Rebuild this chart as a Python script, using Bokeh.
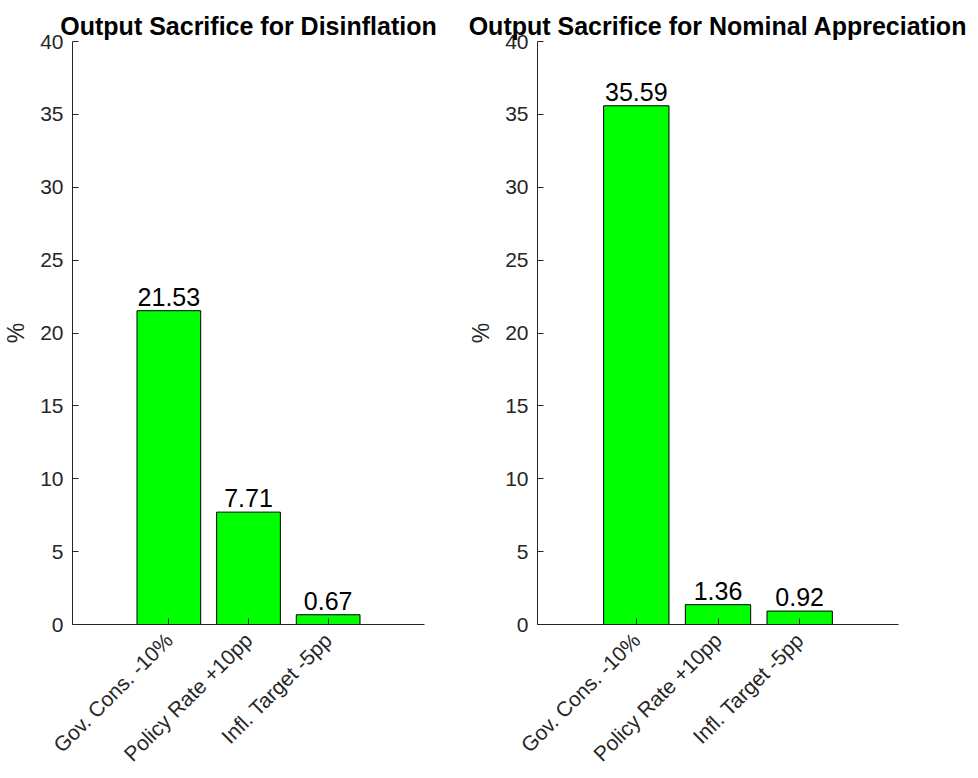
from bokeh.plotting import figure
from bokeh.layouts import row
from bokeh.models import Range1d, FixedTicker, ColumnDataSource
from bokeh.embed import file_html
from bokeh.resources import INLINE
import math

categories = ["Gov. Cons. -10%", "Policy Rate +10pp", "Infl. Target -5pp"]
disinflation = [21.53, 7.71, 0.67]
appreciation = [35.59, 1.36, 0.92]
titles = ["Output Sacrifice for Disinflation", "Output Sacrifice for Nominal Appreciation"]
y_ticks = [0, 5, 10, 15, 20, 25, 30, 35, 40]

FONT = "Liberation Sans"
AX = "#262626"


def make(title, vals, width, mb_left, mb_right):
    xs = list(range(1, len(categories) + 1))
    src = ColumnDataSource(dict(x=xs, top=vals, lab=[f"{v:.2f}" for v in vals]))
    p = figure(width=width, height=776, output_backend="svg", toolbar_location=None,
               x_range=Range1d(1 - 1.21, len(categories) + 1.21), y_range=Range1d(0, 40),
               min_border_left=mb_left, min_border_right=mb_right, min_border_top=41,
               min_border_bottom=0, title=title)
    p.title.text_font = FONT
    p.title.text_font_size = "25px"
    p.title.text_font_style = "bold"
    p.title.text_color = "black"
    p.title.align = "center"
    p.title.standoff = 4
    p.outline_line_color = None
    p.xgrid.visible = False
    p.ygrid.visible = False
    p.background_fill_color = "white"

    p.vbar(x="x", top="top", width=0.8, source=src, fill_color="#00ff00",
           line_color="black", line_width=1)
    p.text(x="x", y="top", text="lab", source=src, text_align="center",
           text_baseline="bottom", text_font_size="25px", text_color="black",
           text_font={"value": FONT}, y_offset=-5)

    xa = p.xaxis[0]
    xa.ticker = FixedTicker(ticks=xs)
    xa.major_label_overrides = {x: c for x, c in zip(xs, categories)}
    xa.major_label_orientation = math.pi / 4
    xa.major_label_text_font = FONT
    xa.major_label_text_font_size = "21px"
    xa.major_label_text_color = AX
    xa.major_label_standoff = 12
    xa.major_tick_in = 6
    xa.major_tick_out = 0
    xa.minor_tick_line_color = None
    xa.axis_line_color = AX
    xa.major_tick_line_color = AX

    ya = p.yaxis[0]
    ya.ticker = FixedTicker(ticks=y_ticks)
    ya.major_label_text_font = FONT
    ya.major_label_text_font_size = "21px"
    ya.major_label_text_color = AX
    ya.major_label_standoff = 9
    ya.major_tick_in = 6
    ya.major_tick_out = 0
    ya.minor_tick_line_color = None
    ya.axis_line_color = AX
    ya.major_tick_line_color = AX
    ya.axis_label = "%"
    ya.axis_label_text_font = FONT
    ya.axis_label_text_font_size = "23px"
    ya.axis_label_text_font_style = "normal"
    ya.axis_label_text_color = AX
    ya.axis_label_standoff = 8
    return p


p1 = make(titles[0], disinflation, 437, 65, 13)
p2 = make(titles[1], appreciation, 530, 100, 69)
layout = row(p1, p2)

open("out.html", "w").write(file_html(layout, INLINE))
